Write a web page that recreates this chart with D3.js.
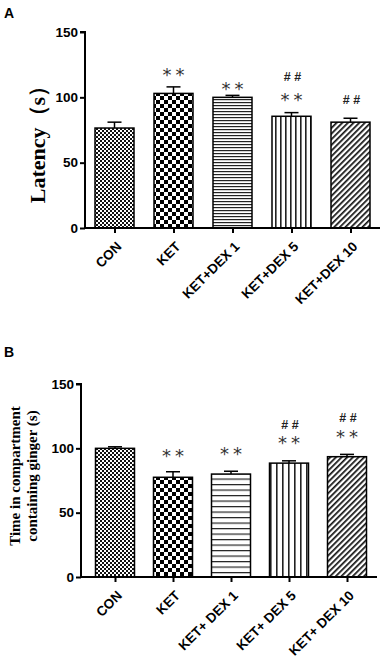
<!DOCTYPE html>
<html>
<head>
<meta charset="utf-8">
<script src="https://cdn.jsdelivr.net/npm/d3@7"></script>
<style>
  body { margin: 0; background: #fff; }
  svg { display: block; }
</style>
</head>
<body>
<svg id="fig" width="383" height="662"></svg>
<script>
// data
const groupsA = ["CON", "KET", "KET+DEX 1", "KET+DEX 5", "KET+DEX 10"];
const groupsB = ["CON", "KET", "KET+ DEX 1", "KET+ DEX 5", "KET+ DEX 10"];
const latencyMean = [76.5, 103, 100, 85.5, 81];
const latencyErr = [4.5, 5, 1.5, 2.8, 3];
const timeMean = [100, 77.5, 80, 88.5, 93.5];
const timeErr = [1.2, 4.3, 2.2, 1.8, 1.8];
// significance marks, height (in axis units) where each sits, null = none
const starsA = [null, 119.5, 108.7, 100.3, null];
const hashA = [null, null, null, 115.6, 98];
const starsB = [null, 96.6, 98.1, 106.5, 111.9];
const hashB = [null, null, null, 118.9, 124.3];
const yTicks = [0, 50, 100, 150];

const svg = d3.select("#fig");
const defs = svg.append("defs");

// fills for the five groups
function makePatterns(id, hSpace, vSpace) {
  let p = defs.append("pattern").attr("id", id + "0").attr("patternUnits", "userSpaceOnUse")
    .attr("width", 4).attr("height", 4);
  p.append("rect").attr("width", 4).attr("height", 4).attr("fill", "#fff");
  p.append("rect").attr("width", 2).attr("height", 2).attr("fill", "#111");
  p.append("rect").attr("x", 2).attr("y", 2).attr("width", 2).attr("height", 2).attr("fill", "#111");

  p = defs.append("pattern").attr("id", id + "1").attr("patternUnits", "userSpaceOnUse")
    .attr("width", 8).attr("height", 8);
  p.append("rect").attr("width", 8).attr("height", 8).attr("fill", "#fff");
  p.append("rect").attr("width", 4).attr("height", 4).attr("fill", "#000");
  p.append("rect").attr("x", 4).attr("y", 4).attr("width", 4).attr("height", 4).attr("fill", "#000");

  p = defs.append("pattern").attr("id", id + "2").attr("patternUnits", "userSpaceOnUse")
    .attr("width", 4).attr("height", hSpace);
  p.append("rect").attr("width", 4).attr("height", hSpace).attr("fill", "#fff");
  p.append("rect").attr("width", 4).attr("height", 1.2).attr("fill", "#222");

  p = defs.append("pattern").attr("id", id + "3").attr("patternUnits", "userSpaceOnUse")
    .attr("width", vSpace).attr("height", 4);
  p.append("rect").attr("width", vSpace).attr("height", 4).attr("fill", "#fff");
  p.append("rect").attr("width", 1.6).attr("height", 4).attr("fill", "#222");

  p = defs.append("pattern").attr("id", id + "4").attr("patternUnits", "userSpaceOnUse")
    .attr("width", 4).attr("height", 4).attr("patternTransform", "rotate(45)");
  p.append("rect").attr("width", 4).attr("height", 4).attr("fill", "#fff");
  p.append("rect").attr("width", 1.7).attr("height", 4).attr("fill", "#111");
}
makePatterns("pa", 3, 5);
makePatterns("pb", 5.5, 6);

function panel(cfg) {
  const g = svg.append("g");
  const y = d3.scaleLinear().domain([0, 150]).range([cfg.y0, cfg.y150]);
  const x = d3.scalePoint().domain(cfg.groups).range(cfg.xr).padding(0.5);
  const bw = 39;

  g.append("text").attr("x", 4).attr("y", cfg.letterY)
    .attr("font-family", "Liberation Sans, Arial").attr("font-weight", "bold")
    .attr("font-size", 14).text(cfg.letter);

  // bars
  g.selectAll(".bar").data(cfg.mean).enter().append("rect")
    .attr("x", (d, i) => x(cfg.groups[i]) - bw / 2)
    .attr("y", d => y(d))
    .attr("width", bw)
    .attr("height", d => cfg.y0 - y(d))
    .attr("fill", (d, i) => `url(#${cfg.pid}${i})`)
    .attr("stroke", "#000").attr("stroke-width", 1.5);

  // error bars
  const eb = g.selectAll(".err").data(cfg.mean).enter().append("g");
  eb.append("line")
    .attr("x1", (d, i) => x(cfg.groups[i])).attr("x2", (d, i) => x(cfg.groups[i]))
    .attr("y1", d => y(d)).attr("y2", (d, i) => y(d + cfg.err[i]))
    .attr("stroke", "#000").attr("stroke-width", 1.5);
  eb.append("line")
    .attr("x1", (d, i) => x(cfg.groups[i]) - 7).attr("x2", (d, i) => x(cfg.groups[i]) + 7)
    .attr("y1", (d, i) => y(d + cfg.err[i])).attr("y2", (d, i) => y(d + cfg.err[i]))
    .attr("stroke", "#000").attr("stroke-width", 1.5);

  // significance marks (text centred on the given level)
  cfg.stars.forEach((v, i) => {
    if (v == null) return;
    g.append("text")
      .attr("x", x(cfg.groups[i]) + 2).attr("y", y(v) + 9.5)
      .attr("text-anchor", "middle")
      .attr("font-family", "DejaVu Sans").attr("font-size", 18)
      .attr("letter-spacing", 4).attr("fill", "#333")
      .text("**");
  });
  cfg.hash.forEach((v, i) => {
    if (v == null) return;
    g.append("text")
      .attr("x", x(cfg.groups[i]) + 1).attr("y", y(v) + 4.5)
      .attr("text-anchor", "middle")
      .attr("font-family", "Liberation Sans, Arial").attr("font-weight", "bold")
      .attr("font-size", 12.5).attr("fill", "#222")
      .text("# #");
  });

  // axes
  const ya = g.append("g").attr("transform", `translate(${cfg.ax},0)`)
    .call(d3.axisLeft(y).tickValues(yTicks).tickSize(5).tickPadding(2));
  ya.select(".domain").attr("stroke-width", 2).attr("d", `M-5,${cfg.y150}H0V${cfg.y0}`);
  ya.selectAll(".tick line").attr("stroke-width", 2);
  ya.selectAll("text").attr("font-family", "Liberation Sans, Arial")
    .attr("font-weight", "bold").attr("font-size", 13.5).attr("fill", "#000");

  const xa = g.append("g").attr("transform", `translate(0,${cfg.y0})`)
    .call(d3.axisBottom(x).tickSize(5).tickSizeOuter(0));
  xa.select(".domain").attr("stroke-width", 2).attr("d", `M${cfg.ax},0H${cfg.xEnd}`);
  xa.selectAll(".tick line").attr("stroke-width", 2);
  xa.selectAll("text")
    .attr("font-family", "Liberation Sans, Arial").attr("font-weight", "bold")
    .attr("font-size", 13.5).attr("fill", "#000")
    .attr("text-anchor", "end")
    .attr("x", 0).attr("y", 0).attr("dy", "0.35em")
    .attr("transform", "translate(4,16) rotate(-45)");

  // y title
  const t = g.append("text").attr("text-anchor", "middle")
    .attr("transform", `translate(${cfg.titleX},${cfg.titleY}) rotate(-90)`)
    .attr("font-family", "Liberation Serif, Times New Roman").attr("font-weight", "bold")
    .attr("font-size", cfg.titleSize);
  cfg.title.forEach((line, k) => {
    t.append("tspan").attr("x", 0).attr("dy", k === 0 ? 0 : cfg.lineGap).text(line);
  });
}

panel({
  letter: "A", letterY: 18, pid: "pa", groups: groupsA, mean: latencyMean, err: latencyErr,
  stars: starsA, hash: hashA, y0: 228, y150: 32, ax: 85, xr: [85, 380], xEnd: 380,
  title: ["Latency（s）"], titleX: 45, titleY: 139, titleSize: 22, lineGap: 0
});

panel({
  letter: "B", letterY: 357, pid: "pb", groups: groupsB, mean: timeMean, err: timeErr,
  stars: starsB, hash: hashB, y0: 577, y150: 384, ax: 81, xr: [86, 376], xEnd: 377,
  title: ["Time in compartment", "containing ginger (s)"], titleX: 20, titleY: 476, titleSize: 15, lineGap: 17
});
</script>
</body>
</html>
